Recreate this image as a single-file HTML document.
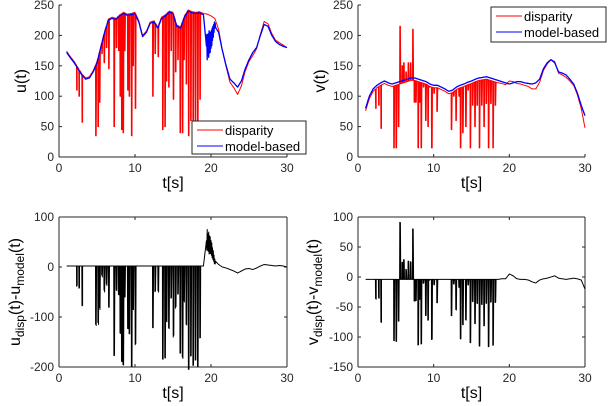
<!DOCTYPE html>
<html><head><meta charset="utf-8">
<style>
body{margin:0;background:#fff;}
svg{display:block;font-family:"Liberation Sans",sans-serif;}
</style></head>
<body>
<svg id="fig" width="608" height="406" viewBox="0 0 608 406"></svg>
<script>
// ---- data ----
const modelT0 = 1, modelDt = 0.5;
const modelU = [172,163,155,145,135,128,130,140,155,180,205,225,228,226,232,236,233,234,236,222,198,205,220,222,212,228,232,238,236,215,212,230,240,237,236,237,234,170,185,215,205,175,150,128,122,115,125,145,160,172,180,200,218,215,200,190,185,182,180];
const modelV = [80,100,112,118,122,125,122,120,122,124,126,128,130,130,128,126,124,120,118,118,115,112,108,110,115,118,120,123,125,128,130,131,132,130,128,126,124,122,120,122,124,124,122,121,120,122,128,145,155,160,155,140,138,135,128,120,105,85,68];
// disparity baseline offsets (disparity - model) per 0.5s sample
const offU = [2,2,2,2,2,2,2,2,2,2,2,2,2,2,2,2,2,2,2,2,2,2,2,2,2,2,2,2,2,2,2,2,2,2,2,2,2,65,47,13,5,0,-2,-5,-8,-12,-8,-4,-3,-5,-2,2,5,4,3,2,3,2,0];
const offV = [-4,-4,-4,-4,-4,-4,-4,-4,-4,-4,-4,-4,-4,-4,-4,-4,-4,-4,-4,-4,-4,-4,-4,-4,-4,-4,-4,-4,-4,-4,-4,-4,-4,-4,-4,-4,-3,-3,5,2,-3,-4,-4,-5,-8,-10,-5,-3,-2,0,2,-2,-3,-4,-3,-2,-3,-5,-20];
// oscillation of the model-based u estimate around t=19.4..20.6 (every 0.05s)
const noiseT0 = 19.4, noiseDt = 0.05;
const noiseU = [0,25,-10,30,-5,28,-12,30,-8,25,-10,22,-6,20,-8,18,-5,15,-6,12,-4,10,-3,6,0];
const spikeTu = [2.3,2.6,3.0,4.8,5.1,5.3,5.6,5.9,6.2,6.5,7.2,7.5,7.8,8.0,8.2,8.4,8.6,9.0,9.2,9.5,9.7,10.0,12.3,12.6,13.0,13.6,13.9,14.1,14.4,14.7,15.0,15.3,15.6,15.9,16.2,16.4,16.7,17.0,17.3,17.6,17.9,18.2,18.5];
const spikeU  = [110,100,57,35,50,90,170,155,180,145,50,180,175,100,45,40,175,110,100,35,150,80,100,170,165,45,50,125,115,175,95,140,160,40,40,160,120,35,60,40,50,38,95];
const spikeTv = [2.3,2.7,3.0,4.7,5.0,5.3,5.5,5.8,6.0,6.3,6.6,6.9,7.2,7.4,7.6,7.9,8.1,8.3,8.6,8.9,9.2,9.4,9.7,10.0,10.4,12.3,12.6,12.9,13.3,13.5,13.8,14.2,14.5,14.8,15.1,15.4,15.7,16.0,16.3,16.6,16.9,17.2,17.5,17.8,18.1];
const spikeV  = [80,85,47,15,15,50,215,150,155,140,155,155,210,90,90,15,90,15,115,60,50,115,15,105,75,45,100,60,100,15,40,50,110,15,85,50,85,15,85,50,88,15,88,15,85];
const xTicks = [0,10,20,30];
const yTicksTop = [0,50,100,150,200,250];
const yTicksDu = [-200,-100,0,100];
const yTicksDv = [-150,-100,-50,0,50,100];

// ---- helpers ----
const NS = "http://www.w3.org/2000/svg";
const svg = document.getElementById('fig');
function mk(tag, attrs, parent){const e=document.createElementNS(NS,tag);for(const k in attrs)e.setAttribute(k,attrs[k]);(parent||svg).appendChild(e);return e;}
function interp(arr,t){const i=(t-modelT0)/modelDt;const i0=Math.max(0,Math.min(arr.length-1,Math.floor(i)));const i1=Math.min(arr.length-1,i0+1);const f=Math.max(0,Math.min(1,i-i0));return arr[i0]*(1-f)+arr[i1]*f;}
function noiseAt(arr,t){if(!arr)return 0;const i=Math.round((t-noiseT0)/noiseDt);return (i>=0&&i<arr.length)?arr[i]:0;}
function series(model, off, sT, sV, noise){
  const events=[];
  for(let i=0;i<model.length;i++) events.push({t:modelT0+i*modelDt});
  for(let t=modelT0;t<=30.001;t+=0.1) events.push({t:t});
  if(noise) for(let i=0;i<noise.length;i++) events.push({t:noiseT0+i*noiseDt});
  for(let j=0;j<sT.length;j++){events.push({t:sT[j]-0.03});events.push({t:sT[j]+0.02,s:sV[j]});events.push({t:sT[j]+0.1,s:sV[j]});events.push({t:sT[j]+0.15});}
  events.sort((a,b)=>a.t-b.t);
  const pts=[];
  for(const e of events){const base=interp(model,e.t);const m=base+noiseAt(noise,e.t);const d=e.s!==undefined?e.s:base+interp(off,e.t);pts.push([e.t,m,d]);}
  return pts;
}
function axes(x0,x1,y0,y1,ymin,ymax,yticks,box){
  const sx=t=>x0+(t-0)/(30-0)*(x1-x0);
  const sy=v=>y1-(v-ymin)/(ymax-ymin)*(y1-y0);
  const g=mk('g',{});
  
  
  mk('line',{x1:x0,y1:y1,x2:x1,y2:y1,stroke:'#262626','stroke-width':1},g);
  mk('line',{x1:x0,y1:y0,x2:x0,y2:y1,stroke:'#262626','stroke-width':1},g);
  if(box){mk('line',{x1:x0,y1:y0,x2:x1,y2:y0,stroke:'#262626','stroke-width':1},g);mk('line',{x1:x1,y1:y0,x2:x1,y2:y1,stroke:'#262626','stroke-width':1},g);}
  xTicks.forEach(t=>{const x=sx(t);mk('line',{x1:x,y1:y1,x2:x,y2:y1-3,stroke:'#262626'},g);if(box)mk('line',{x1:x,y1:y0,x2:x,y2:y0+3,stroke:'#262626'},g);
    const tx=mk('text',{x:x,y:y1+15,'text-anchor':'middle','font-size':12,fill:'#262626'},g);tx.textContent=t;
    });
  yticks.forEach(v=>{const y=sy(v);mk('line',{x1:x0,y1:y,x2:x0+3,y2:y,stroke:'#262626'},g);if(box)mk('line',{x1:x1,y1:y,x2:x1-3,y2:y,stroke:'#262626'},g);
    const tx=mk('text',{x:x0-5,y:y+4,'text-anchor':'end','font-size':12,fill:'#262626'},g);tx.textContent=v;
    });
  const xl=mk('text',{x:(x0+x1)/2,y:y1+31,'text-anchor':'middle','font-size':16,fill:'#000'},g);xl.textContent='t[s]';
  
  return {sx,sy};
}
function line(pts,sx,sy,idx,color,name,w){
  const d=pts.map((p,i)=>(i?'L':'M')+sx(p[0]).toFixed(1)+','+sy(idx(p)).toFixed(1)).join('');
  const p=mk('path',{d:d,fill:'none',stroke:color,'stroke-width':w||1,'stroke-linejoin':'round'});
  
}
function ylab(x,y,html){const t=mk('text',{x:0,y:0,transform:`translate(${x},${y}) rotate(-90)`,'text-anchor':'middle','font-size':16,fill:'#000'});t.innerHTML=html;}
function legend(x,y,w,h){
  const g=mk('g',{});
  mk('rect',{x:x,y:y,width:w,height:h,fill:'#fff',stroke:'#262626','stroke-width':1},g);
  [['disparity','#ff0000'],['model-based','#0000ff']].forEach((e,i)=>{
    const yy=y+9+i*16;
    const le=mk('g',{},g);
    mk('line',{x1:x+5,y1:yy,x2:x+31,y2:yy,stroke:e[1],'stroke-width':1},le);
    const t=mk('text',{x:x+33,y:yy+5,'font-size':13,fill:'#000'},le);t.textContent=e[0];
  });
}
const pu=series(modelU,offU,spikeTu,spikeU,noiseU);
const pv=series(modelV,offV,spikeTv,spikeV,null);

// Panel 1
let a=axes(59,287,5,157,0,250,yTicksTop,false);
line(pu,a.sx,a.sy,p=>p[2],'#ff0000','disparity-u-line');
line(pu,a.sx,a.sy,p=>p[1],'#0000ff','model-u-line',1.3);
ylab(26,81,'u(t)');
legend(192,121,114,33);
// Panel 2
a=axes(358,585,5,157,0,250,yTicksTop,false);
line(pv,a.sx,a.sy,p=>p[2],'#ff0000','disparity-v-line');
line(pv,a.sx,a.sy,p=>p[1],'#0000ff','model-v-line',1.3);
ylab(325,81,'v(t)');
legend(491,7,115,35);
// Panel 3
a=axes(59,287,217,367,-200,100,yTicksDu,true);
line(pu,a.sx,a.sy,p=>p[2]-p[1],'#000','diff-u-line');
ylab(20,292,'u<tspan font-size="12" dy="4">disp</tspan><tspan dy="-4">(t)-u</tspan><tspan font-size="12" dy="4">model</tspan><tspan dy="-4">(t)</tspan>');
// Panel 4
a=axes(358,585,217,367,-150,100,yTicksDv,true);
line(pv,a.sx,a.sy,p=>p[2]-p[1],'#000','diff-v-line');
ylab(318,292,'v<tspan font-size="12" dy="4">disp</tspan><tspan dy="-4">(t)-v</tspan><tspan font-size="12" dy="4">model</tspan><tspan dy="-4">(t)</tspan>');
</script>
</body></html>
